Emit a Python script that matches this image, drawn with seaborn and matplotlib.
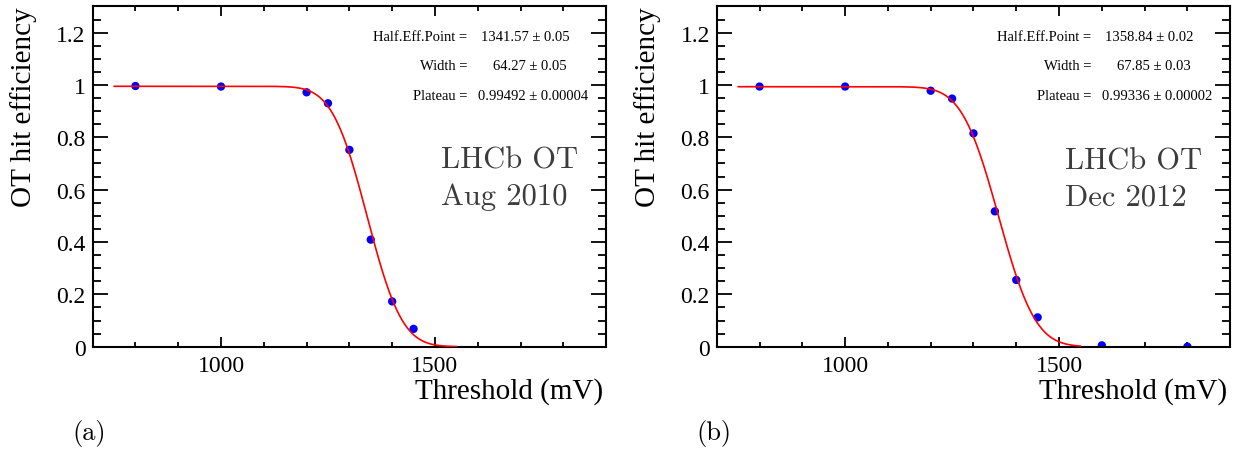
import math
import numpy as np
import pandas as pd
import matplotlib
matplotlib.use('Agg')
import matplotlib.pyplot as plt
import seaborn as sns
from matplotlib.ticker import MultipleLocator, FuncFormatter

# measured hit efficiency vs. threshold
thr_a = [800, 1000, 1200, 1250, 1300, 1350, 1400, 1450]
eff_a = [0.996, 0.994, 0.972, 0.930, 0.752, 0.409, 0.173, 0.068]
thr_b = [800, 1000, 1200, 1250, 1300, 1350, 1400, 1450, 1600, 1800]
eff_b = [0.994, 0.994, 0.978, 0.948, 0.815, 0.517, 0.255, 0.112, 0.005, 0.0]

# fit results shown on the plots (value, error)
half_a, width_a, plat_a = (1341.57, 0.05), (64.27, 0.05), (0.99492, 0.00004)
half_b, width_b, plat_b = (1358.84, 0.02), (67.85, 0.03), (0.99336, 0.00002)

dates = ['Aug 2010', 'Dec 2012']
tags = ['(a)', '(b)']
fit_range = (750, 1550)

sns.set_style('ticks')
plt.rcParams['font.family'] = ['Liberation Serif', 'DejaVu Serif']
plt.rcParams['axes.linewidth'] = 1.5
for k in ['text.color', 'axes.labelcolor', 'xtick.color', 'ytick.color',
          'axes.edgecolor']:
    plt.rcParams[k] = 'black'


def fit_curve(half, width, plat):
    xs = np.linspace(fit_range[0], fit_range[1], 400)
    ys = [plat * 0.5 * math.erfc((x - half) / (width * math.sqrt(2))) for x in xs]
    return pd.DataFrame({'x': xs, 'y': ys})


def panel(ax, thr, eff, half, width, plat, date, tag):
    df = pd.DataFrame({'thr': thr, 'eff': eff})
    sns.scatterplot(data=df, x='thr', y='eff', ax=ax, color='#0000ff', s=36,
                    edgecolor='none', zorder=2)
    fit = fit_curve(half[0], width[0], plat[0])
    sns.lineplot(data=fit, x='x', y='y', ax=ax, color='#ff0000', lw=1.2, zorder=3)

    ax.set_xlim(700, 1900)
    ax.set_ylim(0, 1.3)
    ax.xaxis.set_major_locator(MultipleLocator(500))
    ax.xaxis.set_minor_locator(MultipleLocator(100))
    ax.yaxis.set_major_locator(MultipleLocator(0.2))
    ax.yaxis.set_minor_locator(MultipleLocator(0.05))
    ax.yaxis.set_major_formatter(FuncFormatter(lambda v, p: f'{v:g}'))
    ax.tick_params(which='both', direction='in', top=True, right=True,
                   width=1.3, labelsize=17, color='black', labelcolor='black')
    ax.tick_params(axis='x', which='major', length=7.5, pad=6)
    ax.tick_params(axis='x', which='minor', length=3.8)
    ax.tick_params(axis='y', which='major', length=11, pad=5)
    ax.tick_params(axis='y', which='minor', length=5.5)

    ax.set_xlabel('Threshold (mV)', fontsize=21, loc='right')
    ax.set_ylabel('OT hit efficiency', fontsize=21, loc='top')
    ax.xaxis.set_label_coords(0.994, -0.09)
    ax.yaxis.set_label_coords(-0.108, 1.0)

    rows = [('Half.Eff.Point =', f'{half[0]:.2f} ± {half[1]:.2f}', 0.842),
            ('Width =', f'{width[0]:.2f} ± {width[1]:.2f}', 0.852),
            ('Plateau =', f'{plat[0]:.5f} ± {plat[1]:.5f}', 0.857)]
    for i, (lab, val, xv) in enumerate(rows):
        yy = 0.911 - i * 0.086
        ax.text(0.730, yy, lab, transform=ax.transAxes, ha='right', va='center',
                fontsize=10.5)
        ax.text(xv, yy, val, transform=ax.transAxes, ha='center', va='center',
                fontsize=10.5)

    ax.text(0.678, 0.418, 'LHCb OT\n' + date, transform=ax.transAxes,
            ha='left', va='baseline', fontsize=22, family='cmr10',
            color='#3c3c3c', linespacing=1.42)
    ax.text(-0.006, -0.252, tag, transform=ax.transAxes, ha='center',
            va='center', fontsize=19, family='cmr10')


fig = plt.figure(figsize=(12.42, 4.52), dpi=100)
ax1 = fig.add_axes([0.0746, 0.2308, 0.4134, 0.7527])
ax2 = fig.add_axes([0.5771, 0.2308, 0.4134, 0.7527])
panel(ax1, thr_a, eff_a, half_a, width_a, plat_a, dates[0], tags[0])
panel(ax2, thr_b, eff_b, half_b, width_b, plat_b, dates[1], tags[1])

fig.savefig('out.png', dpi=100)
